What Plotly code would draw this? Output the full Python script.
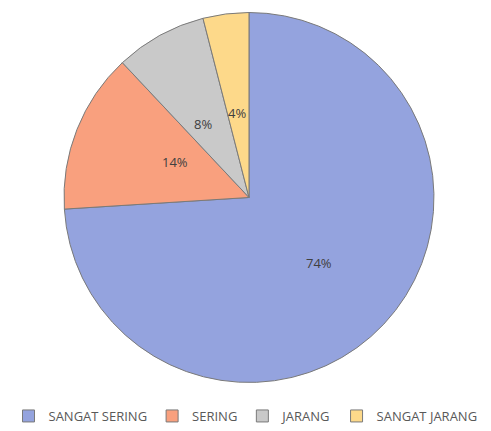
import math
import plotly.graph_objects as go

labels = ["SANGAT SERING", "SERING", "JARANG", "SANGAT JARANG"]
values = [74, 14, 8, 4]
colors = ["#94a3de", "#f9a07e", "#c9c9c9", "#fdd98a"]

W, H = 491, 431
dom_x = [0.1303, 0.8839]
dom_y = [0.1126, 0.9710]

fig = go.Figure(go.Pie(
    labels=labels,
    values=values,
    sort=False,
    direction="clockwise",
    rotation=0,
    marker=dict(colors=colors, line=dict(color="#7a7a7a", width=1)),
    textinfo="none",
    domain=dict(x=dom_x, y=dom_y),
    hole=0,
))

# percentage labels at about half radius on each slice's mid-angle (derived from values)
cx = (dom_x[0] + dom_x[1]) / 2
cy = (dom_y[0] + dom_y[1]) / 2
r_px = min((dom_x[1] - dom_x[0]) * W, (dom_y[1] - dom_y[0]) * H) / 2
total = sum(values)
cum = 0
for v in values:
    mid = (cum + v / 2) / total * 2 * math.pi
    cum += v
    x = cx + 0.52 * r_px * math.sin(mid) / W
    y = cy + 0.52 * r_px * math.cos(mid) / H
    fig.add_annotation(x=x, y=y, xref="paper", yref="paper",
                       text=f"{round(v / total * 100)}%", showarrow=False,
                       font=dict(family="Open Sans, Liberation Sans, sans-serif", size=13, color="#404040"))

fig.update_layout(
    width=W, height=H,
    margin=dict(l=0, r=0, t=0, b=0),
    paper_bgcolor="white",
    plot_bgcolor="white",
    showlegend=True,
    legend=dict(orientation="h", x=0.5, xanchor="center", y=0.0, yanchor="bottom",
                font=dict(family="Open Sans, Liberation Sans, sans-serif", size=13, color="#595959"),
                itemwidth=30, tracegroupgap=0),
)

fig.write_html("out.html", config={"displayModeBar": False},
               post_script="document.body.style.margin='0';")
